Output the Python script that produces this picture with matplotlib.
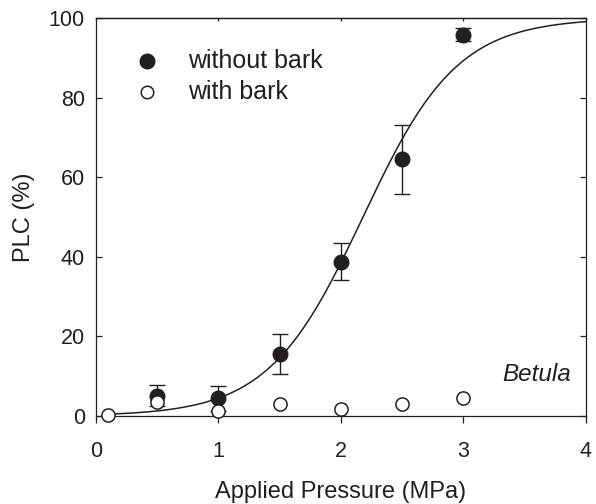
import numpy as np
import matplotlib.pyplot as plt

plt.rcParams['font.family'] = ['Liberation Sans', 'DejaVu Sans']
ink = '#231f20'

# measured points
pressure = [0.5, 1.0, 1.5, 2.0, 2.5, 3.0]
plc_without = [5.1, 4.4, 15.6, 38.8, 64.5, 95.8]
err_without = [2.6, 3.2, 5.0, 4.6, 8.7, 1.6]

pressure_bark = [0.1, 0.5, 1.0, 1.5, 2.0, 2.5, 3.0]
plc_with = [0.2, 3.4, 1.3, 3.1, 1.7, 3.0, 4.5]

# sigmoid fit parameters (slope, P50)
fit_a = 2.59
fit_b = 2.18

fig = plt.figure(figsize=(5.96, 5.04), dpi=100)
ax = fig.add_axes([0.161, 0.1746, 0.822, 0.7894])

xf = np.linspace(0.1, 4.0, 300)
ax.plot(xf, 100 / (1 + np.exp(-fit_a * (xf - fit_b))), color=ink, lw=1.1, zorder=2)

ax.errorbar(pressure, plc_without, yerr=err_without, fmt='o', color=ink,
            ms=10.5, capsize=5.5, elinewidth=1.0, capthick=1.0, zorder=3)
ax.plot(pressure_bark, plc_with, 'o', mfc='white', mec=ink, mew=1.1,
        ms=9.5, zorder=4, clip_on=False)

ax.set_xlim(0, 4)
ax.set_ylim(0, 100)
ax.set_xticks([0, 1, 2, 3, 4])
ax.set_yticks([0, 20, 40, 60, 80, 100])
ax.tick_params(axis='x', direction='out', length=5, width=0.9, pad=13,
               labelsize=15.5, colors=ink)
ax.tick_params(axis='y', direction='in', length=4, width=0.9, pad=8,
               labelsize=15.5, colors=ink, right=True)
for s in ax.spines.values():
    s.set_linewidth(0.9)
    s.set_color(ink)

top = ax.secondary_xaxis('top')
top.set_xticks([0, 1, 2, 3, 4])
top.tick_params(direction='in', length=2, labeltop=False, width=0.9, colors=ink)
top.spines['top'].set_linewidth(0.9)

ax.set_xlabel('Applied Pressure (MPa)', fontsize=17, labelpad=14, color=ink)
ax.set_ylabel('PLC (%)', fontsize=17, labelpad=10, color=ink)

# legend drawn by hand
ax.plot([0.104], [0.892], 'o', color=ink, ms=10.5, transform=ax.transAxes)
ax.plot([0.104], [0.815], 'o', mfc='white', mec=ink, mew=1.1, ms=9,
        transform=ax.transAxes)
ax.text(0.188, 0.892, 'without bark', transform=ax.transAxes, va='center',
        fontsize=18, color=ink)
ax.text(0.188, 0.815, 'with bark', transform=ax.transAxes, va='center',
        fontsize=18, color=ink)

ax.text(0.969, 0.105, 'Betula', transform=ax.transAxes, ha='right', va='center',
        fontsize=17.5, style='italic', color=ink)

fig.savefig('out.png', dpi=100)
